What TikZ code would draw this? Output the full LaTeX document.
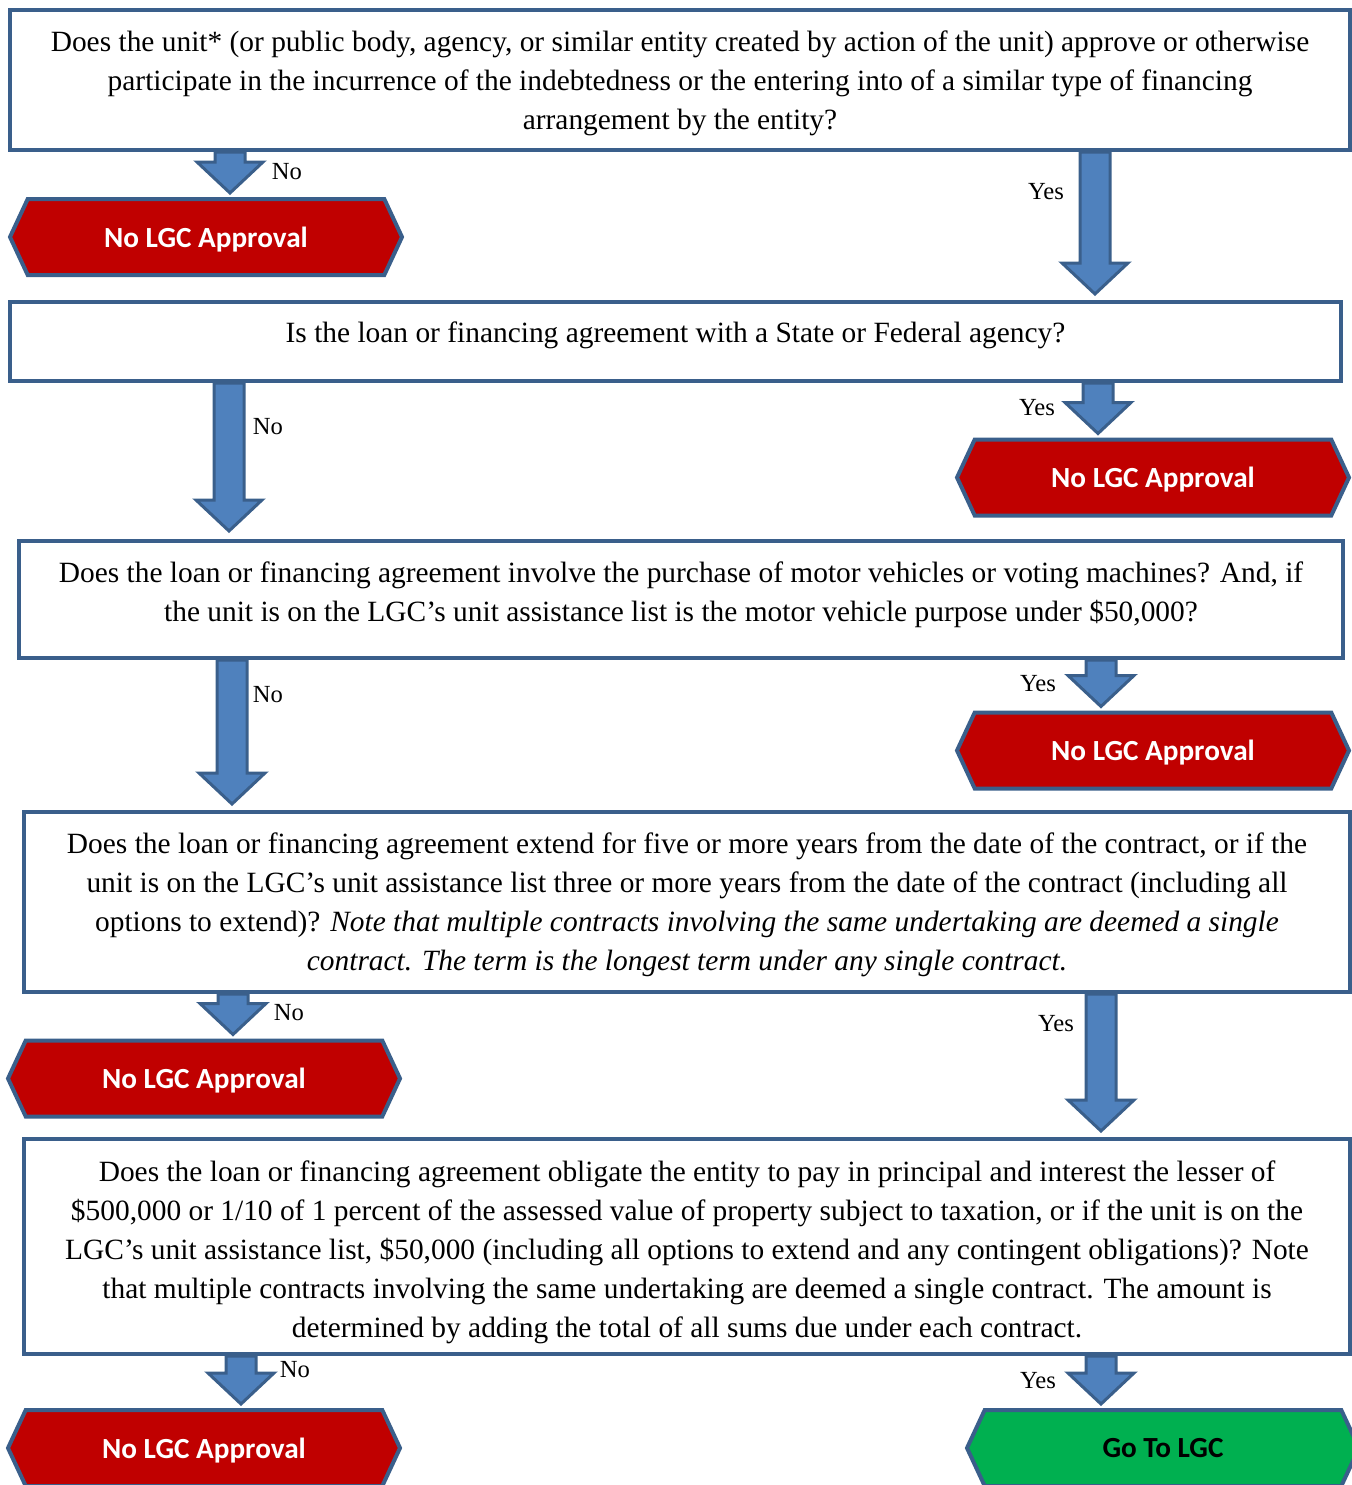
\documentclass[tikz,border=0pt]{standalone}
\usepackage{fontspec}
\setmainfont{Liberation Serif}
\newfontfamily\calibrifont{Carlito}
\usetikzlibrary{calc, shapes.symbols}
\definecolor{boxline}{HTML}{3A5F8B}
\definecolor{arrowfill}{HTML}{4F81BD}
\definecolor{stopred}{HTML}{C00000}
\definecolor{gogreen}{HTML}{00B050}
\tikzset{
  question/.style = {draw = boxline, line width = 2pt, fill = white, align = center,
    inner sep = 0pt, font = \fontsize{14.7}{19.5}\selectfont},
  outcome/.style = {signal, signal to = west and east, signal pointer angle = 130,
    draw = boxline, line width = 2pt, inner sep = 0pt, text depth = 0pt,
    minimum width = 196pt, minimum height = 38pt,
    font = \calibrifont\bfseries\fontsize{14.6}{17}\selectfont},
  stop/.style = {outcome, fill = stopred, text = white},
  go/.style = {outcome, fill = gogreen, text = black},
  answer/.style = {inner sep = 0pt, font = \fontsize{12.3}{14}\selectfont},
  blockarrow/.style = {draw = boxline, fill = arrowfill, line width = 1.5pt, line join = miter}
}
% block arrow from the bottom of one node to the top of another
\newcommand{\blockarrow}[4][0pt]{%
  \draw [blockarrow] let \p1 = (#2,0 |- #3.south), \p2 = (#2,0 |- #4.north) in
    (\x1-7.5pt, \y1) -- (\x1-7.5pt, \y2+#1+15.5pt) -- (\x1-16.5pt, \y2+#1+15.5pt)
    -- (\x1, \y2+#1) -- (\x1+16.5pt, \y2+#1+15.5pt) -- (\x1+7.5pt, \y2+#1+15.5pt)
    -- (\x1+7.5pt, \y1) -- cycle;}

\begin{document}
\begin{tikzpicture}[x = 0.5pt, y = -0.5pt]

\useasboundingbox (0,0) rectangle (1352,1485);

\node [question, minimum width = 670pt, minimum height = 70pt,
  text height = 50pt, text depth = 1pt] (q1) at (680, 80)
  {Does the unit* (or public body, agency, or similar entity created by action of the unit) approve or otherwise\\
   participate in the incurrence of the indebtedness or the entering into of a similar type of financing\\
   arrangement by the entity?};
\node [stop] (h1) at (206, 237) {No LGC Approval};

\node [question, minimum width = 665.5pt, minimum height = 39.5pt,
  text height = 11pt, text depth = 10.5pt] (q2) at (675.5, 341.5)
  {Is the loan or financing agreement with a State or Federal agency?};
\node [stop] (h2) at (1153, 477.5) {No LGC Approval};

\node [question, minimum width = 662pt, minimum height = 58.5pt,
  text height = 30.5pt, text depth = 9pt] (q3) at (681, 599.5)
  {Does the loan or financing agreement involve the purchase of motor vehicles or voting machines? And, if\\
   the unit is on the LGC’s unit assistance list is the motor vehicle purpose under \$50,000?};
\node [stop] (h3) at (1153, 750.5) {No LGC Approval};

\node [question, minimum width = 663pt, minimum height = 90pt,
  text height = 69.5pt, text depth = 1.5pt] (q4) at (687, 902)
  {Does the loan or financing agreement extend for five or more years from the date of the contract, or if the\\
   unit is on the LGC’s unit assistance list three or more years from the date of the contract (including all\\
   options to extend)? \textit{Note that multiple contracts involving the same undertaking are deemed a single}\\
   \textit{contract. The term is the longest term under any single contract.}};
\node [stop] (h4) at (204, 1078.5) {No LGC Approval};

\node [question, minimum width = 663pt, minimum height = 107.5pt,
  text height = 92pt, text depth = 1.5pt] (q5) at (687, 1246.5)
  {Does the loan or financing agreement obligate the entity to pay in principal and interest the lesser of\\
   \$500,000 or 1/10 of 1 percent of the assessed value of property subject to taxation, or if the unit is on the\\
   LGC’s unit assistance list, \$50,000 (including all options to extend and any contingent obligations)? Note\\
   that multiple contracts involving the same undertaking are deemed a single contract. The amount is\\
   determined by adding the total of all sums due under each contract.};
\node [stop] (h5) at (204, 1448) {No LGC Approval};
\node [go] (g1) at (1163, 1448) {Go To LGC};

\blockarrow[2pt]{230}{q1}{h1}
\blockarrow[3pt]{1095}{q1}{q2}
\blockarrow[4pt]{229}{q2}{q3}
\blockarrow[2pt]{1098}{q2}{h2}
\blockarrow[3pt]{232}{q3}{q4}
\blockarrow[2pt]{1101}{q3}{h3}
\blockarrow[2pt]{233}{q4}{h4}
\blockarrow[3pt]{1101}{q4}{q5}
\blockarrow[2pt]{241}{q5}{h5}
\blockarrow[2pt]{1101}{q5}{g1}

\node [answer] (n1) at (287, 172) {No};
\node [answer] (y1) at (1046, 192) {Yes};
\node [answer] (n2) at (268, 427) {No};
\node [answer] (y2) at (1037, 408) {Yes};
\node [answer] (n3) at (268, 695) {No};
\node [answer] (y3) at (1038, 684) {Yes};
\node [answer] (n4) at (289, 1013) {No};
\node [answer] (y4) at (1056, 1024) {Yes};
\node [answer] (n5) at (295, 1370) {No};
\node [answer] (y5) at (1038, 1381) {Yes};

\end{tikzpicture}
\end{document}
